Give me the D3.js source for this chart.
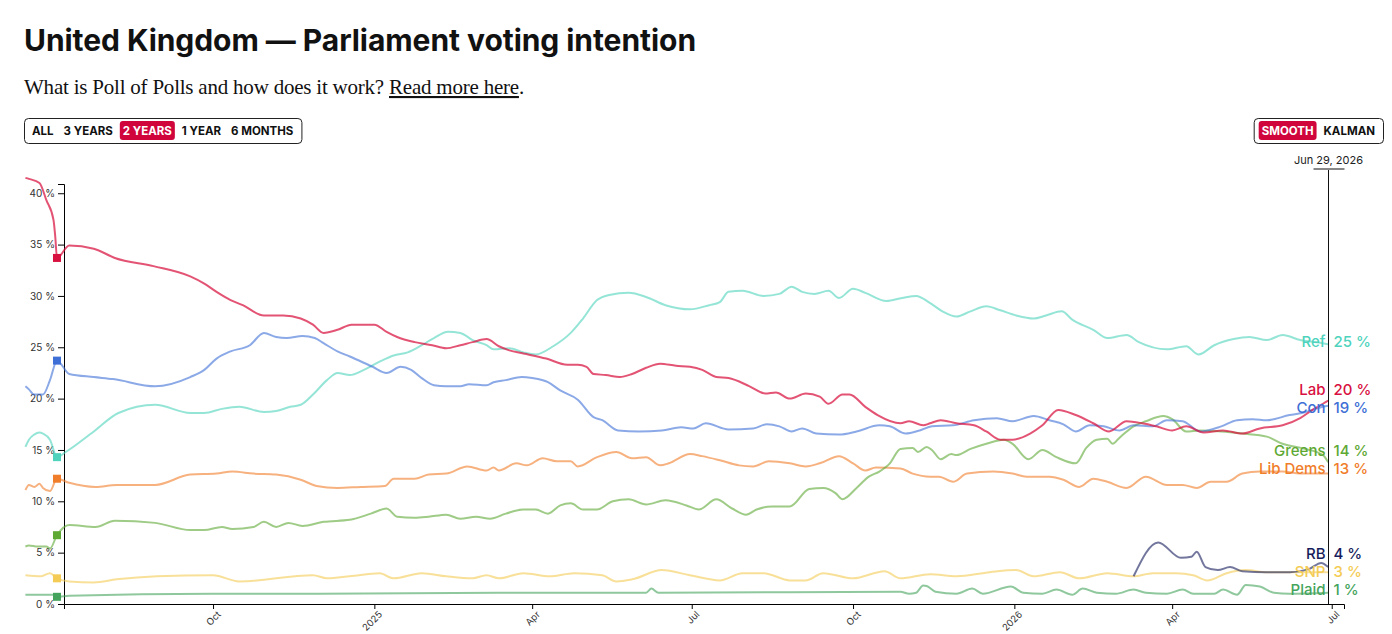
<!DOCTYPE html>
<html>
<head>
<meta charset="utf-8">
<script src="https://cdn.jsdelivr.net/npm/d3@7"></script>
<style>
    body { margin: 0; background: #fff; }
    svg text { font-family: Inter, "Noto Sans", sans-serif; }
</style>
</head>
<body>
<svg id="chart"></svg>
<script>
// Data
const ref_series = [
    ["2024-06-16",15.3],["2024-06-18",16.0],["2024-06-21",16.5],["2024-06-24",16.7],["2024-06-26",16.6],["2024-06-30",16.0],["2024-07-04",14.3],
    ["2024-07-09",14.8],["2024-07-25",16.8],["2024-08-08",18.6],["2024-08-29",19.4],["2024-09-18",18.6],["2024-09-26",18.6],["2024-10-06",19.0],
    ["2024-10-16",19.2],["2024-10-30",18.7],["2024-11-06",18.8],["2024-11-14",19.2],["2024-11-20",19.4],["2024-11-27",20.4],["2024-12-05",21.8],
    ["2024-12-11",22.5],["2024-12-18",22.3],["2024-12-26",22.8],["2025-01-04",23.6],["2025-01-12",24.2],["2025-01-20",24.5],["2025-01-28",25.2],
    ["2025-02-04",25.9],["2025-02-12",26.5],["2025-02-19",26.4],["2025-02-26",25.7],["2025-03-06",25.2],["2025-03-10",24.8],["2025-03-19",24.9],
    ["2025-03-27",24.5],["2025-04-03",24.3],["2025-04-13",25.1],["2025-04-23",26.4],["2025-04-30",27.8],["2025-05-08",29.6],["2025-05-15",30.1],
    ["2025-05-26",30.3],["2025-06-05",29.9],["2025-06-16",29.1],["2025-06-30",28.7],["2025-07-11",29.1],["2025-07-17",29.4],["2025-07-22",30.4],
    ["2025-07-30",30.5],["2025-08-11",30.0],["2025-08-20",30.2],["2025-08-27",30.9],["2025-09-02",30.4],["2025-09-09",30.2],["2025-09-17",30.5],
    ["2025-09-23",29.8],["2025-10-01",30.7],["2025-10-08",30.3],["2025-10-20",29.5],["2025-10-29",29.8],["2025-11-06",30.0],["2025-11-14",29.3],
    ["2025-11-21",28.5],["2025-11-29",28.0],["2025-12-07",28.5],["2025-12-16",29.0],["2025-12-24",28.6],["2026-01-02",28.1],["2026-01-12",27.8],
    ["2026-01-19",28.1],["2026-01-28",28.5],["2026-02-03",27.7],["2026-02-15",26.7],["2026-02-23",25.9],["2026-03-06",26.2],["2026-03-13",25.5],
    ["2026-03-29",24.8],["2026-04-09",25.1],["2026-04-16",24.3],["2026-04-25",25.2],["2026-05-06",25.8],["2026-05-15",26.0],["2026-05-25",25.7],
    ["2026-06-03",26.2],["2026-06-13",25.7],["2026-06-26",25.4],["2026-06-29",25.3]
];

const lab_series = [
    ["2024-06-16",41.5],["2024-06-18",41.4],["2024-06-24",41.0],["2024-06-28",39.3],["2024-07-02",37.4],["2024-07-03",35.8],["2024-07-04",33.7],
    ["2024-07-11",34.9],["2024-07-25",34.6],["2024-08-06",33.7],["2024-08-28",32.9],["2024-09-18",31.9],["2024-09-26",31.2],["2024-10-03",30.4],
    ["2024-10-11",29.6],["2024-10-18",29.1],["2024-10-30",28.1],["2024-11-10",28.1],["2024-11-20",27.8],["2024-11-27",27.2],["2024-12-03",26.4],
    ["2024-12-11",26.7],["2024-12-19",27.2],["2025-01-01",27.2],["2025-01-08",26.5],["2025-01-14",26.0],["2025-01-24",25.5],["2025-02-03",25.2],
    ["2025-02-11",24.9],["2025-02-19",25.2],["2025-02-26",25.5],["2025-03-06",25.8],["2025-03-13",25.1],["2025-03-19",24.7],["2025-03-27",24.4],
    ["2025-04-09",23.9],["2025-04-21",23.3],["2025-04-27",23.3],["2025-05-02",23.1],["2025-05-06",22.4],["2025-05-13",22.3],["2025-05-21",22.1],
    ["2025-05-28",22.4],["2025-06-05",23.0],["2025-06-13",23.4],["2025-06-22",23.2],["2025-06-30",23.1],["2025-07-07",22.8],["2025-07-15",22.1],
    ["2025-07-22",22.0],["2025-08-03",21.2],["2025-08-12",20.5],["2025-08-18",20.6],["2025-08-26",20.0],["2025-09-04",20.5],["2025-09-12",20.2],
    ["2025-09-17",19.5],["2025-09-25",20.4],["2025-09-29",20.4],["2025-10-08",19.2],["2025-10-15",18.4],["2025-10-28",17.6],["2025-11-02",17.8],
    ["2025-11-10",17.4],["2025-11-14",17.6],["2025-11-20",17.9],["2025-11-29",17.6],["2025-12-09",17.4],["2025-12-16",16.8],["2025-12-24",16.0],
    ["2025-12-31",16.0],["2026-01-10",16.6],["2026-01-17",17.4],["2026-01-26",18.9],["2026-02-05",18.4],["2026-02-15",17.6],["2026-02-24",16.8],
    ["2026-03-06",17.8],["2026-03-15",17.6],["2026-03-23",17.3],["2026-04-01",16.9],["2026-04-09",17.3],["2026-04-19",16.7],["2026-04-30",16.9],
    ["2026-05-11",16.6],["2026-05-21",17.1],["2026-06-03",17.4],["2026-06-13",18.1],["2026-06-20",18.9],["2026-06-26",19.5],["2026-06-29",19.8]
];

const con_series = [
    ["2024-06-16",21.2],["2024-06-18",20.9],["2024-06-21",20.4],["2024-06-26",20.4],["2024-06-30",21.8],["2024-07-04",23.7],
    ["2024-07-11",22.4],["2024-07-25",22.1],["2024-08-05",21.9],["2024-08-29",21.2],["2024-09-18",22.1],["2024-09-26",22.8],["2024-10-03",23.9],
    ["2024-10-11",24.6],["2024-10-22",25.2],["2024-10-30",26.4],["2024-11-06",26.0],["2024-11-12",25.9],["2024-11-21",26.1],["2024-11-28",25.9],
    ["2024-12-03",25.4],["2024-12-11",24.6],["2024-12-18",24.1],["2024-12-31",23.1],["2025-01-08",22.5],["2025-01-16",23.1],["2025-01-22",22.8],
    ["2025-01-28",22.0],["2025-02-04",21.3],["2025-02-11",21.2],["2025-02-19",21.2],["2025-02-24",21.4],["2025-03-06",21.3],["2025-03-10",21.6],
    ["2025-03-17",21.8],["2025-03-26",22.1],["2025-04-01",22.0],["2025-04-10",21.6],["2025-04-17",20.8],["2025-04-27",19.9],["2025-05-06",18.2],
    ["2025-05-11",17.9],["2025-05-20",16.9],["2025-06-01",16.8],["2025-06-14",16.9],["2025-06-25",17.2],["2025-07-02",17.1],["2025-07-09",17.6],
    ["2025-07-22",17.0],["2025-08-05",17.1],["2025-08-13",17.5],["2025-08-20",17.3],["2025-08-27",16.8],["2025-09-02",17.1],["2025-09-10",16.6],
    ["2025-09-23",16.5],["2025-10-03",16.8],["2025-10-16",17.4],["2025-10-22",17.3],["2025-10-31",16.6],["2025-11-08",16.9],["2025-11-15",17.3],
    ["2025-11-27",17.4],["2025-12-09",17.9],["2025-12-22",18.1],["2025-12-31",17.8],["2026-01-12",18.3],["2026-01-21",17.9],["2026-01-29",17.5],
    ["2026-02-05",16.8],["2026-02-13",17.4],["2026-02-21",17.3],["2026-03-02",16.9],["2026-03-10",17.4],["2026-03-21",17.3],["2026-03-29",17.9],
    ["2026-04-07",17.8],["2026-04-17",16.8],["2026-04-29",17.3],["2026-05-08",17.9],["2026-05-17",18.0],["2026-05-25",17.9],["2026-06-07",18.4],
    ["2026-06-14",18.6],["2026-06-26",19.2],["2026-06-29",19.3]
];

const greens_series = [
    ["2024-06-16",5.6],["2024-06-18",5.7],["2024-06-23",5.6],["2024-06-28",5.6],["2024-06-30",5.4],["2024-07-04",6.7],
    ["2024-07-11",7.7],["2024-07-26",7.5],["2024-08-06",8.1],["2024-08-29",7.9],["2024-09-18",7.2],["2024-09-26",7.2],["2024-10-06",7.5],
    ["2024-10-12",7.3],["2024-10-24",7.5],["2024-10-30",8.0],["2024-11-06",7.5],["2024-11-13",7.9],["2024-11-21",7.6],["2024-12-03",8.0],
    ["2024-12-18",8.2],["2024-12-30",8.8],["2025-01-08",9.3],["2025-01-14",8.5],["2025-01-24",8.4],["2025-02-01",8.5],["2025-02-11",8.7],
    ["2025-02-19",8.3],["2025-02-28",8.5],["2025-03-08",8.3],["2025-03-17",8.8],["2025-03-27",9.2],["2025-04-03",9.2],["2025-04-10",8.8],
    ["2025-04-17",9.6],["2025-04-23",9.8],["2025-04-30",9.2],["2025-05-08",9.2],["2025-05-17",10.0],["2025-05-26",10.2],["2025-06-05",9.7],
    ["2025-06-16",10.1],["2025-06-28",9.6],["2025-07-05",9.2],["2025-07-15",10.2],["2025-07-24",9.3],["2025-08-01",8.7],["2025-08-07",9.2],
    ["2025-08-16",9.5],["2025-08-26",9.5],["2025-09-06",11.2],["2025-09-14",11.3],["2025-09-21",10.8],["2025-09-25",10.2],["2025-10-03",11.3],
    ["2025-10-10",12.4],["2025-10-16",12.9],["2025-10-22",13.7],["2025-10-28",15.1],["2025-11-04",15.2],["2025-11-07",14.8],["2025-11-12",15.3],
    ["2025-11-15",15.0],["2025-11-20",14.1],["2025-11-26",14.6],["2025-11-29",14.5],["2025-12-07",15.1],["2025-12-16",15.6],["2025-12-26",16.0],
    ["2025-12-31",15.6],["2026-01-09",14.1],["2026-01-17",15.0],["2026-01-25",14.3],["2026-02-05",13.7],["2026-02-11",15.2],["2026-02-17",16.0],
    ["2026-02-23",16.1],["2026-02-26",15.6],["2026-03-02",16.2],["2026-03-10",17.3],["2026-03-17",17.8],["2026-03-27",18.3],["2026-04-01",18.0],
    ["2026-04-09",16.8],["2026-04-17",16.9],["2026-04-29",16.8],["2026-05-11",16.6],["2026-05-25",16.3],["2026-06-03",15.6],["2026-06-16",15.1],
    ["2026-06-26",14.5],["2026-06-29",13.8]
];

const libdems_series = [
    ["2024-06-16",11.1],["2024-06-18",11.6],["2024-06-21",11.4],["2024-06-24",11.7],["2024-06-26",11.3],["2024-06-30",11.0],["2024-07-04",12.2],
    ["2024-07-11",11.8],["2024-07-26",11.4],["2024-08-07",11.6],["2024-08-29",11.6],["2024-09-18",12.6],["2024-10-03",12.7],["2024-10-12",12.9],
    ["2024-10-24",12.7],["2024-11-06",12.6],["2024-11-20",12.1],["2024-11-29",11.5],["2024-12-11",11.3],["2024-12-24",11.4],["2025-01-07",11.5],
    ["2025-01-12",12.2],["2025-01-24",12.2],["2025-02-01",12.6],["2025-02-11",12.7],["2025-02-23",13.4],["2025-03-06",13.0],["2025-03-10",13.3],
    ["2025-03-13",13.0],["2025-03-23",13.7],["2025-03-29",13.5],["2025-04-07",14.2],["2025-04-15",13.9],["2025-04-23",13.9],["2025-04-27",13.4],
    ["2025-05-08",14.3],["2025-05-19",14.8],["2025-05-28",14.2],["2025-06-05",14.3],["2025-06-13",13.5],["2025-06-18",13.7],["2025-06-30",14.6],
    ["2025-07-07",14.4],["2025-07-17",14.0],["2025-07-28",13.5],["2025-08-05",13.4],["2025-08-14",13.9],["2025-08-26",13.7],["2025-09-04",13.4],
    ["2025-09-12",13.7],["2025-09-23",14.4],["2025-10-01",13.7],["2025-10-08",13.0],["2025-10-14",13.3],["2025-10-28",13.2],["2025-11-04",12.7],
    ["2025-11-14",12.4],["2025-11-19",12.4],["2025-11-27",11.9],["2025-12-05",12.7],["2025-12-20",12.9],["2025-12-31",12.7],["2026-01-08",12.4],
    ["2026-01-21",12.4],["2026-01-29",12.1],["2026-02-07",11.4],["2026-02-15",12.2],["2026-02-23",11.9],["2026-03-06",11.3],["2026-03-17",12.4],
    ["2026-03-29",11.6],["2026-04-07",11.6],["2026-04-15",11.3],["2026-04-23",11.9],["2026-05-02",11.9],["2026-05-11",12.7],["2026-05-21",12.9],
    ["2026-06-03",12.9],["2026-06-13",12.7],["2026-06-29",12.7]
];

const rb_series = [
    ["2026-03-10",2.7],["2026-03-24",6.0],["2026-04-06",4.5],["2026-04-12",4.6],["2026-04-15",5.1],["2026-04-20",3.6],["2026-04-27",3.3],
    ["2026-05-04",3.6],["2026-05-11",3.2],["2026-05-25",3.1],["2026-06-07",3.1],["2026-06-18",3.4],["2026-06-25",4.0],["2026-06-29",3.6]
];

const snp_series = [
    ["2024-06-16",2.8],["2024-06-25",2.7],["2024-06-30",3.0],["2024-07-04",2.5],["2024-07-11",2.2],["2024-07-25",2.1],["2024-08-07",2.4],
    ["2024-08-30",2.7],["2024-10-01",2.8],["2024-10-16",2.2],["2024-11-27",2.8],["2024-12-05",2.5],["2024-12-18",2.7],["2025-01-04",3.0],
    ["2025-01-12",2.5],["2025-01-28",3.0],["2025-02-11",2.7],["2025-02-26",2.5],["2025-03-06",2.8],["2025-03-13",2.5],["2025-03-27",3.0],
    ["2025-04-11",2.7],["2025-04-25",3.0],["2025-05-11",2.8],["2025-05-19",2.2],["2025-05-28",2.4],["2025-06-14",3.3],["2025-06-30",2.8],
    ["2025-07-17",2.3],["2025-07-30",3.0],["2025-08-11",3.0],["2025-08-26",2.3],["2025-09-04",2.3],["2025-09-14",3.0],["2025-10-01",2.5],
    ["2025-10-19",3.2],["2025-10-28",2.5],["2025-11-14",2.9],["2025-11-29",2.7],["2025-12-18",3.1],["2026-01-02",3.3],["2026-01-12",2.7],
    ["2026-01-27",3.1],["2026-02-07",2.5],["2026-02-23",3.0],["2026-03-10",2.7],["2026-03-21",3.0],["2026-04-03",3.0],["2026-04-13",2.8],
    ["2026-04-21",2.3],["2026-05-02",3.0],["2026-05-13",3.3],["2026-05-25",3.1],["2026-06-13",3.1],["2026-06-29",3.1]
];

const plaid_series = [
    ["2024-06-16",0.9],["2024-07-03",0.9],["2024-07-04",0.7],["2024-07-11",0.8],["2024-10-01",1.0],["2024-12-01",1.0],["2025-03-13",1.1],
    ["2025-06-05",1.1],["2025-06-08",1.5],["2025-06-12",1.1],["2025-10-28",1.2],["2025-11-02",1.0],["2025-11-06",1.1],["2025-11-10",1.8],
    ["2025-11-12",1.75],["2025-11-17",1.2],["2025-11-29",1.0],["2025-12-08",1.5],["2025-12-14",1.0],["2025-12-30",1.7],["2026-01-06",1.1],
    ["2026-01-17",1.0],["2026-01-25",1.4],["2026-02-03",0.9],["2026-02-09",1.5],["2026-02-17",1.1],["2026-02-28",1.0],["2026-03-10",1.4],
    ["2026-03-17",1.1],["2026-03-29",1.0],["2026-04-07",1.4],["2026-04-13",1.0],["2026-04-25",1.0],["2026-04-30",1.4],["2026-05-08",0.9],
    ["2026-05-13",1.85],["2026-05-21",1.7],["2026-05-29",1.1],["2026-06-07",1.0],["2026-06-29",1.1]
];

const party_names = ["Ref", "Lab", "Con", "Greens", "Lib Dems", "RB", "SNP", "Plaid"];
const party_values = [ref_series, lab_series, con_series, greens_series, libdems_series, rb_series, snp_series, plaid_series];

const y_ticks = [0, 5, 10, 15, 20, 25, 30, 35, 40];
const x_tick_dates = ["2024-10-01", "2025-01-01", "2025-04-01", "2025-07-01", "2025-10-01", "2026-01-01", "2026-04-01", "2026-07-01"];
const x_tick_labels = ["Oct", "2025", "Apr", "Jul", "Oct", "2026", "Apr", "Jul"];

const range_buttons = ["ALL", "3 YEARS", "2 YEARS", "1 YEAR", "6 MONTHS"];
const mode_buttons = ["SMOOTH", "KALMAN"];
const election_date = "2024-07-04";
const latest_date = "2026-06-29";
const domain_dates = ["2024-07-08", "2026-07-08"];

// Styles
const colors = {
    "Ref": "#4fd3bd", "Lab": "#d8103f", "Con": "#3e6fd6", "Greens": "#5ea834",
    "Lib Dems": "#f07d2a", "RB": "#161d5c", "SNP": "#f4cc55", "Plaid": "#45a45c"
};
const accent = "#d0053c";

const chart_width = 1392;
const chart_height = 634;
const parse = d3.timeParse('%Y-%m-%d');
const fmt_date = d3.timeFormat('%b %-d, %Y');

const series = party_names.map((name, i) => ({
    name: name,
    values: party_values[i].map(d => ({date: parse(d[0]), num: d[1]}))
}));

// Scales
const x_scale = d3.scaleTime()
    .domain(domain_dates.map(parse))
    .range([64, 1344]);

const y_scale = d3.scaleLinear()
    .domain([0, 40.9])
    .range([604, 184]);

// Create SVG
const svg = d3.select("#chart")
    .attr("width", chart_width)
    .attr("height", chart_height)
    .style("display", "block");

// Fit a text to a width by adjusting its letter spacing
function fit(sel, width) {
    const node = sel.node();
    const n = node.getNumberOfChars();
    const w = node.getComputedTextLength();
    sel.attr("letter-spacing", ((width - w) / n).toFixed(3));
}

// Header
const title = svg.append("text")
    .attr("x", 24).attr("y", 51)
    .attr("font-size", 30).attr("font-weight", 700)
    .attr("fill", "#111")
    .text("United Kingdom \u2014 Parliament voting intention");
fit(title, 672);

const sub = svg.append("text")
    .attr("x", 24).attr("y", 94)
    .attr("font-size", 21)
    .attr("fill", "#111")
    .style("font-family", "'Liberation Serif', 'DejaVu Serif', serif");
sub.append("tspan").text("What is Poll of Polls and how does it work? ");
sub.append("tspan").style("text-decoration", "underline").text("Read more here");
sub.append("tspan").text(".");
fit(sub, 500);

// Buttons
function button_group(labels, selected, x0, align) {
    const g = svg.append("g");
    const widths = labels.map(l => {
        const t = g.append("text").attr("font-size", 11.5).attr("font-weight", 700).text(l);
        const w = t.node().getComputedTextLength();
        t.remove();
        return w + 10;
    });
    const total = d3.sum(widths) + 6;
    const left = align === "right" ? x0 - total : x0;
    g.append("rect")
        .attr("x", left + 0.5).attr("y", 118.5)
        .attr("width", total).attr("height", 25)
        .attr("rx", 4)
        .attr("fill", "#fff").attr("stroke", "#222");
    let cx = left + 3;
    labels.forEach((l, i) => {
        if (i === selected) {
            g.append("rect")
                .attr("x", cx + 2).attr("y", 121)
                .attr("width", widths[i] - 4).attr("height", 19)
                .attr("rx", 3).attr("fill", accent);
        }
        g.append("text")
            .attr("x", cx + widths[i] / 2).attr("y", 134.5)
            .attr("text-anchor", "middle")
            .attr("font-size", 11.5).attr("font-weight", 700)
            .attr("fill", i === selected ? "#fff" : "#111")
            .text(l);
        cx += widths[i];
    });
}
button_group(range_buttons, 2, 24, "left");
button_group(mode_buttons, 0, 1383, "right");

// Create Axes
const y_axis = d3.axisLeft(y_scale)
    .tickValues(y_ticks)
    .tickSize(6)
    .tickPadding(3)
    .tickFormat(d => d + " %");

const x_axis = d3.axisBottom(x_scale)
    .tickValues(x_tick_dates.map(parse))
    .tickSize(5)
    .tickFormat((d, i) => x_tick_labels[i]);

const gy = svg.append("g")
    .attr("transform", "translate(64, 0)")
    .call(y_axis);
gy.selectAll("text").attr("font-size", 10).attr("fill", "#333").style("font-family", "Inter, sans-serif");

const gx = svg.append("g")
    .attr("transform", "translate(0, 604)")
    .call(x_axis);
gx.selectAll("text")
    .attr("font-size", 9.5)
    .attr("fill", "#333")
    .style("font-family", "Inter, sans-serif")
    .attr("text-anchor", "end")
    .attr("dy", null)
    .attr("y", 0)
    .attr("transform", "translate(8, 11) rotate(-45)");

// Create Lines
const line = d3.line()
    .curve(d3.curveMonotoneX)
    .x(d => x_scale(d.date))
    .y(d => y_scale(d.num));

const draw_order = ["Plaid", "SNP", "RB", "Lib Dems", "Greens", "Ref", "Con", "Lab"];
draw_order.forEach(name => {
    const s = series.find(e => e.name === name);
    svg.append('path')
        .datum(s.values)
        .attr('fill', 'none')
        .attr('stroke', colors[name])
        .attr('stroke-opacity', name === "Lab" ? 0.72 : 0.6)
        .attr('stroke-width', 2)
        .attr('stroke-linejoin', 'round')
        .attr('d', line);
});

// Election result markers
const election = parse(election_date);
series.forEach(s => {
    const p = s.values.find(d => +d.date === +election);
    if (!p) return;
    svg.append("rect")
        .attr("x", x_scale(p.date) - 4)
        .attr("y", y_scale(p.num) - 4)
        .attr("width", 8).attr("height", 8)
        .attr("fill", colors[s.name]);
});

// Latest marker
const latest = parse(latest_date);
const lx = Math.round(x_scale(latest)) + 0.5;
svg.append("line")
    .attr("x1", lx).attr("x2", lx)
    .attr("y1", 169).attr("y2", 604)
    .attr("stroke", "#111").attr("stroke-width", 1);
svg.append("line")
    .attr("x1", lx - 15).attr("x2", lx + 16)
    .attr("y1", 169).attr("y2", 169)
    .attr("stroke", "#888").attr("stroke-width", 2);
svg.append("text")
    .attr("x", lx).attr("y", 164)
    .attr("text-anchor", "middle")
    .attr("font-size", 11).attr("fill", "#222")
    .text(fmt_date(latest));

// End labels with simple collision avoidance
const gap = 18;
const labels = series.map(s => {
    const last = s.values[s.values.length - 1];
    const rounded = Math.round(last.num);
    return {name: s.name, value: rounded, target: y_scale(rounded)};
}).sort((a, b) => a.target - b.target);

let blocks = labels.map(l => ({items: [l], mean: l.target}));
let merged = true;
while (merged) {
    merged = false;
    for (let i = 0; i < blocks.length - 1; i++) {
        const a = blocks[i], b = blocks[i + 1];
        const a_end = a.mean + (a.items.length - 1) * gap / 2;
        const b_start = b.mean - (b.items.length - 1) * gap / 2;
        if (b_start - a_end < gap) {
            const items = a.items.concat(b.items);
            blocks.splice(i, 2, {items: items, mean: d3.mean(items, d => d.target)});
            merged = true;
            break;
        }
    }
}
blocks.forEach(b => b.items.forEach((l, k) => {
    l.y = b.mean - (b.items.length - 1) * gap / 2 + k * gap;
}));

const label_g = svg.append("g")
    .attr("font-size", 15)
    .attr("font-weight", 500);

label_g.selectAll(".name")
    .data(labels)
    .enter()
    .append("text")
    .attr("x", lx - 3)
    .attr("y", d => d.y)
    .attr("text-anchor", "end")
    .attr("fill", d => colors[d.name])
    .text(d => d.name);

label_g.selectAll(".val")
    .data(labels)
    .enter()
    .append("text")
    .attr("x", lx + 5)
    .attr("y", d => d.y)
    .attr("fill", d => colors[d.name])
    .text(d => d.value + " %");
</script>
</body>
</html>
